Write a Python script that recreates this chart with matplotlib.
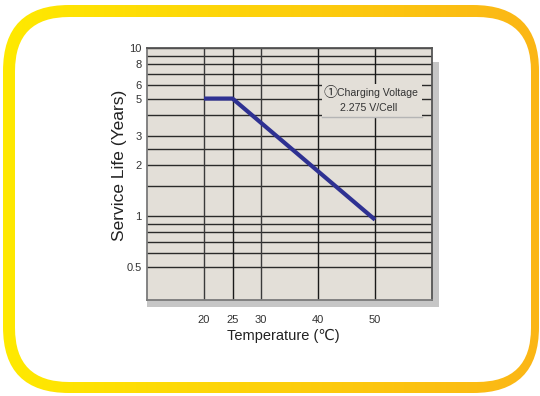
import numpy as np
import matplotlib
matplotlib.use("Agg")
import matplotlib.pyplot as plt
from matplotlib.patches import FancyBboxPatch, Rectangle
from matplotlib.ticker import NullLocator

plt.rcParams['font.family'] = ['Liberation Sans', 'DejaVu Sans', 'Noto Sans CJK JP']

# data
temps = [20, 25, 50]
life_years = [5, 5, 0.95]

x_ticks = [20, 25, 30, 40, 50]
y_grid = [10, 9, 8, 7, 6, 5, 4, 3, 2.5, 2, 1.5, 1, 0.9, 0.8, 0.7, 0.6, 0.5]
y_labeled = {10: '10', 8: '8', 6: '6', 5: '5', 3: '3', 2: '2', 1: '1', 0.5: '0.5'}

note_mark = '\u2460'
note_lines = ['Charging Voltage', '2.275 V/Cell']

W, H = 540, 396
fig = plt.figure(figsize=(W / 100, H / 100), dpi=100)
fig.patch.set_facecolor('white')

# frame with yellow -> orange gradient, in pixel coordinates
bg = fig.add_axes([0, 0, 1, 1])
bg.set_xlim(0, W)
bg.set_ylim(H, 0)
bg.axis('off')

grad = np.linspace(0, 1, 256)
c_left = np.array([255, 234, 0]) / 255
c_right = np.array([251, 182, 22]) / 255
img = c_left[None, :] * (1 - grad[:, None]) + c_right[None, :] * grad[:, None]
img = img[None, :, :]
outer = FancyBboxPatch((3, 5), 536, 388, boxstyle="round,pad=0,rounding_size=66",
                       transform=bg.transData, facecolor='none', edgecolor='none')
bg.add_patch(outer)
im = bg.imshow(img, extent=(0, W, H, 0), aspect='auto', interpolation='bilinear')
im.set_clip_path(outer)
inner = FancyBboxPatch((15, 17), 516, 365, boxstyle="round,pad=0,rounding_size=54",
                       facecolor='white', edgecolor='none')
bg.add_patch(inner)

# drop shadow of the plot area
bg.add_patch(Rectangle((147, 300), 292, 7, facecolor='#c6c6c6', edgecolor='none'))
bg.add_patch(Rectangle((432, 62), 7, 245, facecolor='#c6c6c6', edgecolor='none'))

# main chart
ax = fig.add_axes([147 / W, 1 - 300 / H, 285 / W, 252 / H])
ax.set_zorder(2)
ax.set_facecolor('#e3dfd8')
ax.set_yscale('log')
ax.set_xlim(10, 60)
ax.set_ylim(0.316, 10)

for v in y_grid:
    ax.axhline(v, color='#2a2a2a', lw=1.0, zorder=1)
for t in x_ticks:
    ax.axvline(t, color='#3a3a3a' if t in (20, 30) else '#1a1a1a', lw=1.0, zorder=1)

ax.yaxis.set_minor_locator(NullLocator())
ax.set_yticks(list(y_labeled.keys()))
ax.set_yticklabels(list(y_labeled.values()))
ax.set_xticks(x_ticks)
ax.set_xticklabels([str(t) for t in x_ticks])
ax.tick_params(axis='both', length=0, labelsize=8, labelcolor='#333333')
ax.tick_params(axis='y', pad=4)
ax.tick_params(axis='x', pad=11)

for s in ax.spines.values():
    s.set_color('#555555')
    s.set_linewidth(1.3)
ax.spines['left'].set_color('#7a7a7a')
ax.spines['bottom'].set_color('#7a7a7a')

ax.plot(temps, life_years, color='#2e3192', lw=3.0, solid_capstyle='butt', zorder=4)

# note box
trans = ax.get_xaxis_transform()
ax.add_patch(Rectangle((40.7, 0.726), 17.5, 0.131, transform=trans,
                       facecolor='#e3dfd8', edgecolor='none', zorder=3))
ax.plot([40.7, 58.2], [0.728, 0.728], transform=trans, color='#b5b5b5', lw=1.0, zorder=3)
ax.text(42.1, 0.822, note_mark, transform=trans, ha='center', va='center',
        fontsize=10, color='#333333', zorder=5, family=['Noto Sans CJK JP', 'DejaVu Sans'])
ax.text(43.3, 0.820, note_lines[0], transform=trans, ha='left', va='center',
        fontsize=7.6, color='#333333', zorder=5)
ax.text(43.8, 0.762, note_lines[1], transform=trans, ha='left', va='center',
        fontsize=7.6, color='#333333', zorder=5)

ax.set_xlabel('Temperature (\u2103)', fontsize=10.5, color='#222222')
ax.xaxis.set_label_coords(0.477, -0.115)
ax.set_ylabel('Service Life (Years)', fontsize=12.5, color='#222222')
ax.yaxis.set_label_coords(-0.07, 0.536)

fig.savefig('out.png', dpi=100, facecolor='white')
